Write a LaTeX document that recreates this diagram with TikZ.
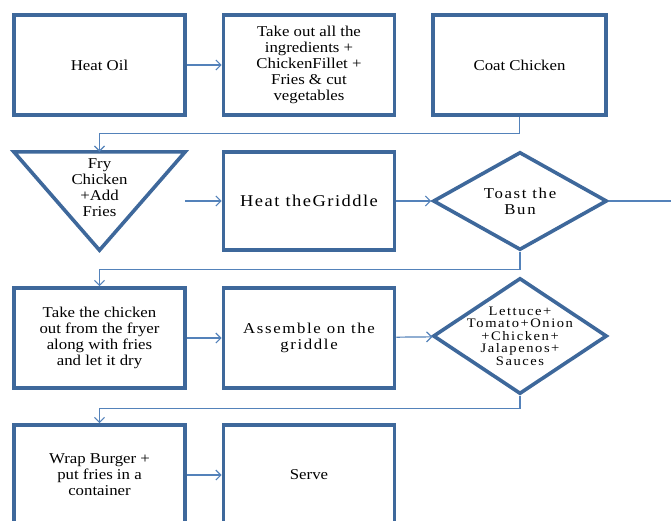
\documentclass[tikz,border=0pt]{standalone}
\usepackage{fontspec}
\setmainfont{Liberation Serif}[FakeStretch=1.12]
\usepackage{xcolor}
\usetikzlibrary{shapes.geometric,arrows.meta}
\definecolor{boxblue}{RGB}{62,104,155}
\definecolor{lineblue}{RGB}{84,130,186}
\newcommand{\stepfont}{\fontsize{15}{16}\selectfont}
\newcommand{\spacedfont}{\fontsize{15}{16}\selectfont\addfontfeatures{LetterSpace=11}}

\begin{document}
\begin{tikzpicture}[x=1pt,y=-1pt,
  stepbox/.style={draw=boxblue,line width=3.6pt,minimum width=171pt,minimum height=100pt,inner sep=2pt,align=center,font=\stepfont},
  decide/.style={diamond,draw=boxblue,line width=3.6pt,minimum width=174pt,minimum height=98pt,inner sep=0pt},
  flow/.style={draw=lineblue,line width=1.2pt,-{Straight Barb[length=5pt,width=10pt]}}]
\useasboundingbox (0,0) rectangle (671,520);

% row 1
\node (heat) at (99.5,65) [stepbox] {Heat Oil};
\node (takeout) at (309,65) [stepbox] {Take out all the\\ingredients +\\ChickenFillet +\\Fries \& cut\\vegetables};
\node (coat) at (519.5,65) [stepbox, minimum width=173pt] {Coat Chicken};

% row 2
\node (fry) at (99.5,201) [minimum width=171pt,minimum height=98pt,inner sep=0pt] {};
\draw [draw=boxblue,line width=3.6pt] (fry.north west) -- (fry.north east) -- (fry.south) -- cycle;
\node (frytext) at (99.5,188) [align=center,font=\stepfont] {Fry\\Chicken\\+Add\\Fries};
\node (griddle) at (309,201) [stepbox, minimum height=98pt, font=\fontsize{16.5}{17}\selectfont\addfontfeatures{LetterSpace=9}] {Heat theGriddle};
\node (toast) at (520,201) [decide, label={[align=center,font=\spacedfont]center:Toast the\\Bun}] {};
\coordinate (toastout) at (680,201);

% row 3
\node (chick) at (99.5,338) [stepbox] {Take the chicken\\out from the fryer\\along with fries\\and let it dry};
\node (assemble) at (309,338) [stepbox, font=\spacedfont] {Assemble on the\\griddle};
\node (fill) at (520,336) [decide, minimum height=116pt, label={[align=center,font=\fontsize{13}{12.5}\selectfont\addfontfeatures{LetterSpace=12}]center:Lettuce+\\Tomato+Onion\\+Chicken+\\Jalapenos+\\Sauces}] {};

% row 4
\node (wrap) at (99.5,475) [stepbox] {Wrap Burger +\\put fries in a\\container};
\node (serve) at (309,475) [stepbox] {Serve};

\draw [flow] (heat) -- (takeout);
\draw [flow] (coat.south) -- ++(0,17) -| (fry.north);
\draw [flow] (fry) -- (griddle);
\draw [flow] (griddle) -- (toast);
\draw [draw=lineblue,line width=1.2pt] (toast.east) -- (toastout);
\draw [flow] (toast.south) -- ++(0,18) -| (chick.north);
\draw [flow] (chick) -- (assemble);
\draw [flow] (assemble) -- (fill);
\draw [flow] (fill.south) -- ++(0,13) -| (wrap.north);
\draw [flow] (wrap) -- (serve);
\end{tikzpicture}
\end{document}
